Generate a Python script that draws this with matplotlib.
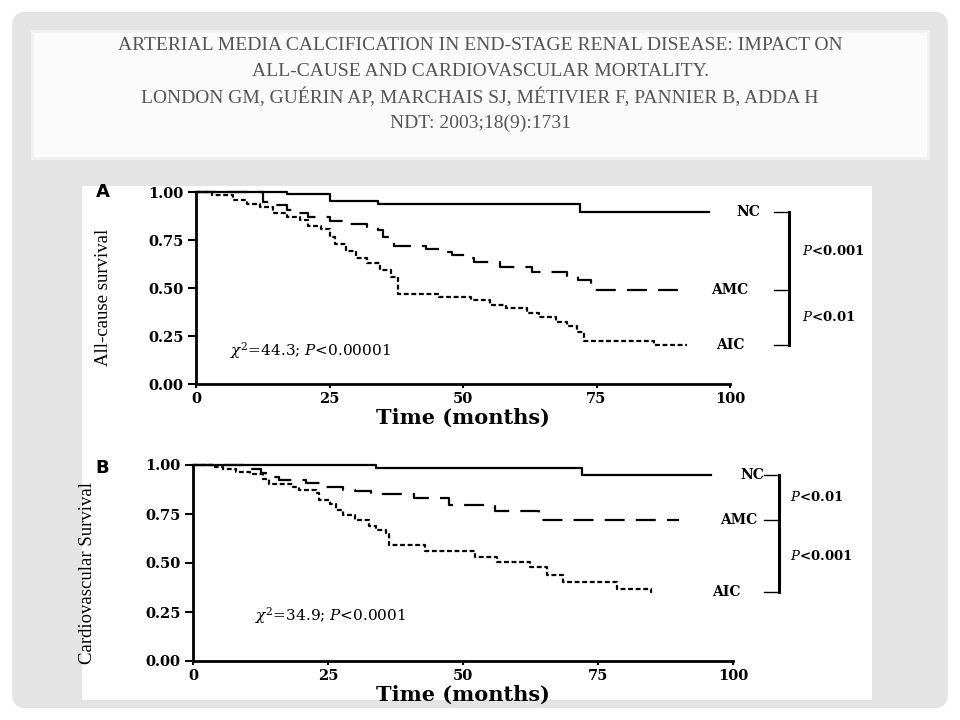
import numpy as np
import matplotlib
matplotlib.use("Agg")
import matplotlib.pyplot as plt
from matplotlib.patches import FancyBboxPatch, Rectangle

# Slide title
title_lines = [
    "ARTERIAL MEDIA CALCIFICATION IN END-STAGE RENAL DISEASE: IMPACT ON",
    "ALL-CAUSE AND CARDIOVASCULAR MORTALITY.",
    "LONDON GM, GUÉRIN AP, MARCHAIS SJ, MÉTIVIER F, PANNIER B, ADDA H",
    "NDT: 2003;18(9):1731",
]

groups = ["NC", "AMC", "AIC"]

# Panel A - all-cause survival (months, survival)
a_nc_t = [0, 17, 25, 34, 72, 96]
a_nc_s = [1.0, 0.99, 0.955, 0.94, 0.895, 0.895]
a_amc_t = [0, 12.5, 15, 17, 19, 21, 25, 28, 32, 34, 35, 37, 43, 45.5, 48, 51,
           52, 57, 63, 69.5, 71.5, 74, 91]
a_amc_s = [1.0, 0.95, 0.93, 0.905, 0.89, 0.87, 0.85, 0.835, 0.82, 0.80, 0.765,
           0.72, 0.705, 0.69, 0.67, 0.655, 0.635, 0.61, 0.585, 0.565, 0.54,
           0.49, 0.49]
a_aic_t = [0, 3, 7, 9.5, 12, 14.5, 17, 19.5, 21, 23.5, 25, 26, 28, 30, 32,
           34.5, 36.5, 37.8, 45.5, 51.5, 55, 58, 62, 64.3, 67.5, 69.4, 71.3,
           72.6, 85.7, 92]
a_aic_s = [1.0, 0.985, 0.96, 0.94, 0.92, 0.89, 0.87, 0.855, 0.825, 0.805,
           0.765, 0.73, 0.695, 0.655, 0.63, 0.595, 0.555, 0.47, 0.455, 0.437,
           0.41, 0.395, 0.37, 0.35, 0.325, 0.30, 0.27, 0.225, 0.205, 0.205]
a_pvals = ["P<0.001", "P<0.01"]
a_stat = r"$\chi^2$=44.3; $P$<0.00001"

# Panel B - cardiovascular survival
b_nc_t = [0, 33.8, 72, 96]
b_nc_s = [1.0, 0.985, 0.95, 0.95]
b_amc_t = [0, 11, 12.6, 13.5, 16, 21, 24.6, 27.7, 30, 33, 41, 47.4, 56, 64, 90]
b_amc_s = [1.0, 0.98, 0.96, 0.94, 0.925, 0.91, 0.89, 0.875, 0.865, 0.85,
           0.83, 0.795, 0.765, 0.72, 0.72]
b_aic_t = [0, 4, 5.5, 8, 10.5, 13, 14, 18.5, 19.7, 22.8, 23.4, 25.3, 26.5,
           27.7, 30, 32.6, 33.8, 35.7, 36.3, 43, 52.3, 56.3, 62.4, 65.5, 68.5,
           78.6, 84.8, 85]
b_aic_s = [1.0, 0.99, 0.98, 0.965, 0.955, 0.93, 0.905, 0.89, 0.872, 0.855,
           0.82, 0.80, 0.77, 0.745, 0.72, 0.69, 0.67, 0.65, 0.59, 0.56, 0.53,
           0.505, 0.48, 0.44, 0.405, 0.365, 0.35, 0.35]
b_pvals = ["P<0.01", "P<0.001"]
b_stat = r"$\chi^2$=34.9; $P$<0.0001"

x_ticks = [0, 25, 50, 75, 100]
y_ticks = [0.0, 0.25, 0.5, 0.75, 1.0]

plt.rcParams['mathtext.fontset'] = 'dejavuserif'

W, H = 960, 720
fig = plt.figure(figsize=(9.6, 7.2), dpi=100)
fig.patch.set_facecolor('white')

# slide background drawn in pixel coordinates
bg = fig.add_axes([0, 0, 1, 1], zorder=0)
bg.set_xlim(0, W)
bg.set_ylim(H, 0)
bg.axis('off')
bg.add_patch(FancyBboxPatch((12, 12), 936, 696, boxstyle="round,pad=0,rounding_size=14",
                            fc='#e4e4e4', ec='none'))
bg.add_patch(Rectangle((32, 31), 896, 127, fc='#fbfbfb', ec='#f2f2f2', lw=2))
bg.add_patch(Rectangle((82, 186), 790, 514, fc='white', ec='none'))
for i, line in enumerate(title_lines):
    bg.text(480, 46 + i * 25.7, line, ha='center', va='center', fontsize=14,
            family='Liberation Serif', color='#555555')


def px_rect(left, right, top, bottom):
    return [left / W, (H - bottom) / H, (right - left) / W, (bottom - top) / H]


def km_panel(ax, curves, pvals, stat, stat_xy, ylabel, ylab_x, letter,
             lab_x, bracket_x, p_x):
    styles = [dict(ls='-'), dict(ls=(0, (9, 5))), dict(ls=(0, (2.2, 1.2)))]
    ends = []
    for (t, s), st in zip(curves, styles):
        ax.step(t, s, where='post', color='black', lw=1.6, clip_on=False, **st)
        ends.append(s[-1])

    ax.set_xlim(0, 100)
    ax.set_ylim(0, 1.0)
    ax.set_facecolor('none')
    for side in ['top', 'right']:
        ax.spines[side].set_visible(False)
    for side in ['left', 'bottom']:
        ax.spines[side].set_linewidth(2)
    ax.set_xticks(x_ticks)
    ax.set_xticklabels([str(v) for v in x_ticks])
    ax.set_yticks(y_ticks)
    ax.set_yticklabels([f"{v:.2f}" for v in y_ticks])
    ax.tick_params(axis='y', direction='out', length=6, width=1.5, pad=3)
    ax.tick_params(axis='x', direction='out', length=3, width=1.5, pad=3)
    for lab in ax.get_xticklabels() + ax.get_yticklabels():
        lab.set_family('DejaVu Serif')
        lab.set_fontweight('bold')
        lab.set_fontsize(10.5)

    ax.set_xlabel("Time (months)", family='DejaVu Serif', fontweight='bold',
                  fontsize=15, labelpad=1)
    ax.set_ylabel(ylabel, family='Liberation Serif', fontsize=13.5)
    ax.yaxis.set_label_coords(ylab_x, 0.45)
    ax.text(letter[0], letter[1], letter[2], transform=ax.transAxes,
            family='DejaVu Sans', fontweight='bold', fontsize=13,
            ha='center', va='center')

    # group labels at end of each curve and the comparison bracket
    for name, y, lx in zip(groups, ends, lab_x):
        ax.text(lx, y, name, family='DejaVu Serif', fontweight='bold',
                fontsize=10, ha='center', va='center', clip_on=False)
        ax.plot([bracket_x - 2.8, bracket_x], [y, y], color='black', lw=1,
                clip_on=False)
    ax.plot([bracket_x, bracket_x], [ends[0], ends[2]], color='black', lw=2.2,
            clip_on=False)
    for k, p in enumerate(pvals):
        ym = (ends[k] + ends[k + 1]) / 2
        ax.text(p_x, ym, p.replace("P", "$P$"), family='DejaVu Serif',
                fontweight='bold', fontsize=9.5, ha='left', va='center',
                clip_on=False)

    ax.text(stat_xy[0], stat_xy[1], stat, family='DejaVu Serif', fontsize=11,
            ha='left', va='center')


ax_a = fig.add_axes(px_rect(196, 730, 192, 384), zorder=2)
km_panel(ax_a, [(a_nc_t, a_nc_s), (a_amc_t, a_amc_s), (a_aic_t, a_aic_s)],
         a_pvals, a_stat, (6.4, 0.176), "All-cause survival", -0.157,
         (-0.174, 1.0, "A"), [103.4, 100, 100], 111, 113.5)

ax_b = fig.add_axes(px_rect(193, 733, 465, 661), zorder=2)
km_panel(ax_b, [(b_nc_t, b_nc_s), (b_amc_t, b_amc_s), (b_aic_t, b_aic_s)],
         b_pvals, b_stat, (11.4, 0.23), "Cardiovascular Survival", -0.18,
         (-0.169, 0.985, "B"), [103.5, 101, 98.8], 108.6, 110.5)

fig.savefig("out.png", dpi=100)
